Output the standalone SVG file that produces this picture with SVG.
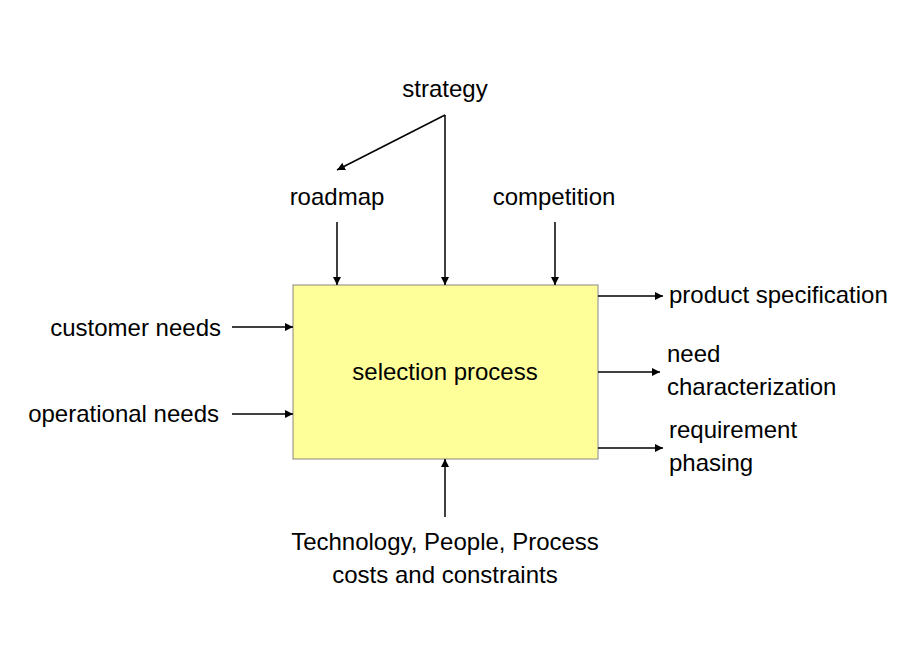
<svg xmlns="http://www.w3.org/2000/svg" width="920" height="660" viewBox="0 0 920 660">
<style>
text{font-family:"Liberation Sans",Arial,sans-serif;font-size:24px;fill:#000}
.c{text-anchor:middle}.e{text-anchor:end}
line{stroke:#000;stroke-width:1.5}
</style>
<defs><marker id="a" viewBox="0 0 10 10" refX="10" refY="5" markerWidth="8" markerHeight="8" orient="auto" markerUnits="userSpaceOnUse"><path d="M0,0 L10,5 L0,10 z" fill="#000"/></marker></defs>
<rect width="920" height="660" fill="#fff"/>
<g id="process"><rect x="293" y="285" width="305" height="174" fill="#FFFF99" stroke="#888" stroke-width="1"/><text class="c" x="445" y="380">selection process</text></g>
<g id="labels">
<text class="c" x="445" y="97">strategy</text>
<text class="c" x="337" y="205">roadmap</text>
<text class="c" x="554" y="205">competition</text>
<text class="e" x="221" y="336">customer needs</text>
<text class="e" x="219" y="422">operational needs</text>
<text x="669" y="303">product specification</text>
<text x="667" y="362">need</text><text x="667" y="395">characterization</text>
<text x="669" y="438">requirement</text><text x="669" y="471">phasing</text>
<text class="c" x="445" y="550">Technology, People, Process</text>
<text class="c" x="445" y="583">costs and constraints</text>
</g>
<g id="connectors">
<line x1="445" y1="115" x2="445" y2="285" marker-end="url(#a)"/>
<line x1="445" y1="115" x2="337" y2="170" marker-end="url(#a)"/>
<line x1="337" y1="222" x2="337" y2="285" marker-end="url(#a)"/>
<line x1="555" y1="222" x2="555" y2="285" marker-end="url(#a)"/>
<line x1="232" y1="327" x2="293" y2="327" marker-end="url(#a)"/>
<line x1="232" y1="414" x2="293" y2="414" marker-end="url(#a)"/>
<line x1="598" y1="296" x2="663" y2="296" marker-end="url(#a)"/>
<line x1="598" y1="372" x2="660" y2="372" marker-end="url(#a)"/>
<line x1="598" y1="448" x2="663" y2="448" marker-end="url(#a)"/>
<line x1="445" y1="517" x2="445" y2="459" marker-end="url(#a)"/>
</g>
</svg>
